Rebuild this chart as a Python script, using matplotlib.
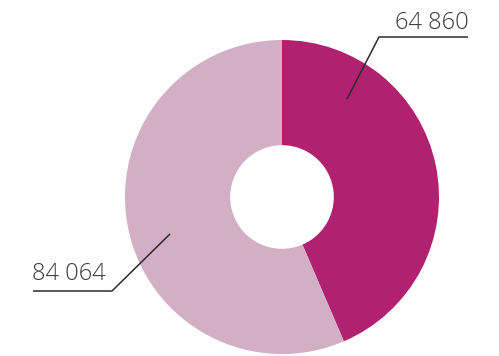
import matplotlib
matplotlib.use("Agg")
import matplotlib.pyplot as plt

labels = ["64 860", "84 064"]
values = [64860, 84064]
colors = ["#B0226F", "#D2AFC4"]

W, H = 499, 356
fig = plt.figure(figsize=(W / 100, H / 100), dpi=100)
ax = fig.add_axes([0, 0, 1, 1])

# pie in pixel coords, y flipped so go counterclockwise in data = clockwise on screen
cx, cy, r = 282, 197, 157
ax.pie(values, colors=colors, startangle=-90, counterclock=True,
       center=(cx, cy), radius=r, frame=True,
       wedgeprops=dict(width=r * 0.67, linewidth=0))
ax.set_xlim(0, W)
ax.set_ylim(H, 0)
ax.set_aspect("equal")
ax.axis("off")

line_kw = dict(color="#2b2b2b", lw=1.1, solid_capstyle="butt")
ax.plot([347, 379, 468], [99, 37, 37], **line_kw)
ax.plot([170, 112, 33], [234, 291, 291], **line_kw)

txt_kw = dict(fontsize=17, family="Open Sans", fontweight="light", color="#3a3a3a")
ax.text(469, 29, labels[0], ha="right", va="baseline", **txt_kw)
ax.text(32, 280, labels[1], ha="left", va="baseline", **txt_kw)

fig.savefig("out.png", dpi=100)
